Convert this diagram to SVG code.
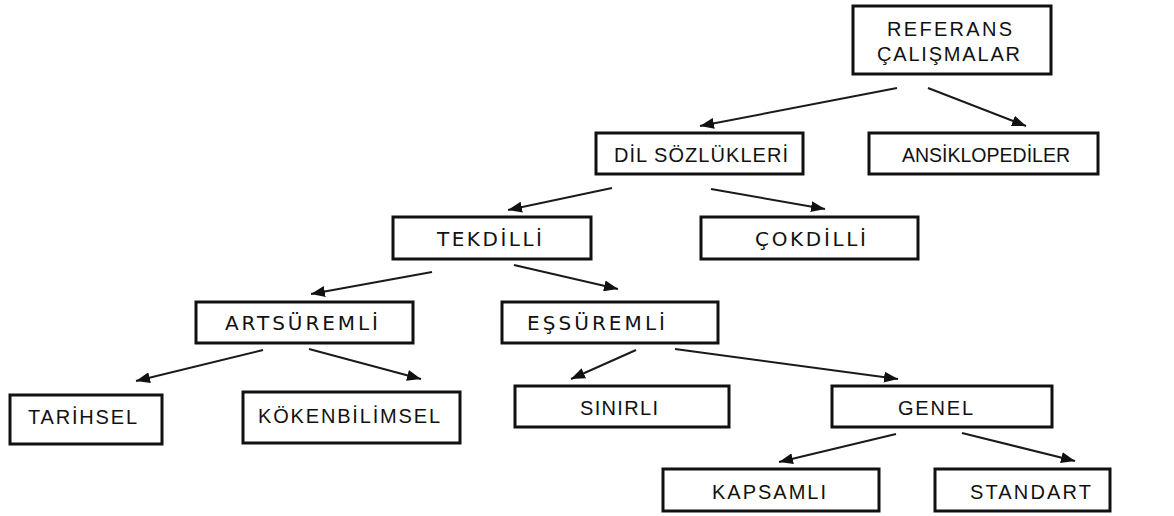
<svg xmlns="http://www.w3.org/2000/svg" width="1174" height="516" viewBox="0 0 1174 516">
<style>
.box{fill:#fff;stroke:#111;stroke-width:3}
.a{font-family:"Liberation Sans",Arial,sans-serif;font-size:20px;fill:#111}
.s{font-size:19.5px}
.v{font-family:"DejaVu Sans",Verdana,sans-serif;font-size:20px;fill:#111}
.c{stroke:#1a1a1a;stroke-width:2;fill:none;marker-end:url(#ah)}
</style>
<defs>
<marker id="ah" markerUnits="userSpaceOnUse" markerWidth="15" markerHeight="11" refX="14" refY="5.5" orient="auto">
<path d="M0,0 L14,5.5 L0,11 Z" fill="#111"/>
</marker>
</defs>
<rect width="1174" height="516" fill="#fff"/>
<g id="connectors">
<line class="c" x1="897" y1="88" x2="700" y2="126"/>
<line class="c" x1="928" y1="88" x2="1026" y2="126"/>
<line class="c" x1="612" y1="188" x2="508" y2="210"/>
<line class="c" x1="711" y1="189" x2="825" y2="209"/>
<line class="c" x1="432" y1="272" x2="311" y2="294"/>
<line class="c" x1="514" y1="265" x2="618" y2="289"/>
<line class="c" x1="263" y1="350" x2="136" y2="381"/>
<line class="c" x1="309" y1="349" x2="421" y2="379"/>
<line class="c" x1="636" y1="350" x2="571" y2="379"/>
<line class="c" x1="675" y1="349" x2="898" y2="379"/>
<line class="c" x1="896" y1="434" x2="779" y2="462"/>
<line class="c" x1="962" y1="433" x2="1075" y2="461"/>
</g>
<g id="referans">
<rect class="box" x="853" y="6" width="198" height="68"/>
<text class="a" x="887" y="36" textLength="125" lengthAdjust="spacing">REFERANS</text>
<text class="a" x="877" y="61" textLength="143" lengthAdjust="spacing">ÇALIŞMALAR</text>
</g>
<g id="dil">
<rect class="box" x="596" y="133" width="207" height="41"/>
<text class="a" x="614" y="162" textLength="174" lengthAdjust="spacing">DİL SÖZLÜKLERİ</text>
</g>
<g id="ansiklopediler">
<rect class="box" x="869" y="133" width="229" height="41"/>
<text class="a s" x="902" y="162" textLength="168" lengthAdjust="spacingAndGlyphs">ANSİKLOPEDİLER</text>
</g>
<g id="tekdilli">
<rect class="box" x="393" y="217" width="198" height="42"/>
<text class="v" x="437" y="246" textLength="105" lengthAdjust="spacing">TEKDİLLİ</text>
</g>
<g id="cokdilli">
<rect class="box" x="701" y="217" width="217" height="42"/>
<text class="v" x="755" y="246" textLength="111" lengthAdjust="spacing">ÇOKDİLLİ</text>
</g>
<g id="artsuremli">
<rect class="box" x="196" y="302" width="217" height="41"/>
<text class="v" x="225" y="330" textLength="153" lengthAdjust="spacing">ARTSÜREMLİ</text>
</g>
<g id="essuremli">
<rect class="box" x="502" y="302" width="216" height="41"/>
<text class="v" x="527" y="330" textLength="138" lengthAdjust="spacing">EŞSÜREMLİ</text>
</g>
<g id="tarihsel">
<rect class="box" x="10" y="395" width="152" height="49"/>
<text class="a" x="28" y="424" textLength="109" lengthAdjust="spacing">TARİHSEL</text>
</g>
<g id="kokenbilimsel">
<rect class="box" x="243" y="392" width="217" height="51"/>
<text class="a" x="258" y="423" textLength="182" lengthAdjust="spacing">KÖKENBİLİMSEL</text>
</g>
<g id="sinirli">
<rect class="box" x="515" y="386" width="214" height="41"/>
<text class="a" x="580" y="415" textLength="78" lengthAdjust="spacing">SINIRLI</text>
</g>
<g id="genel">
<rect class="box" x="832" y="386" width="220" height="41"/>
<text class="a" x="898" y="415" textLength="75" lengthAdjust="spacing">GENEL</text>
</g>
<g id="kapsamli">
<rect class="box" x="663" y="469" width="216" height="42"/>
<text class="a" x="712" y="499" textLength="114" lengthAdjust="spacing">KAPSAMLI</text>
</g>
<g id="standart">
<rect class="box" x="935" y="469" width="175" height="42"/>
<text class="a" x="970" y="499" textLength="121" lengthAdjust="spacing">STANDART</text>
</g>
</svg>
